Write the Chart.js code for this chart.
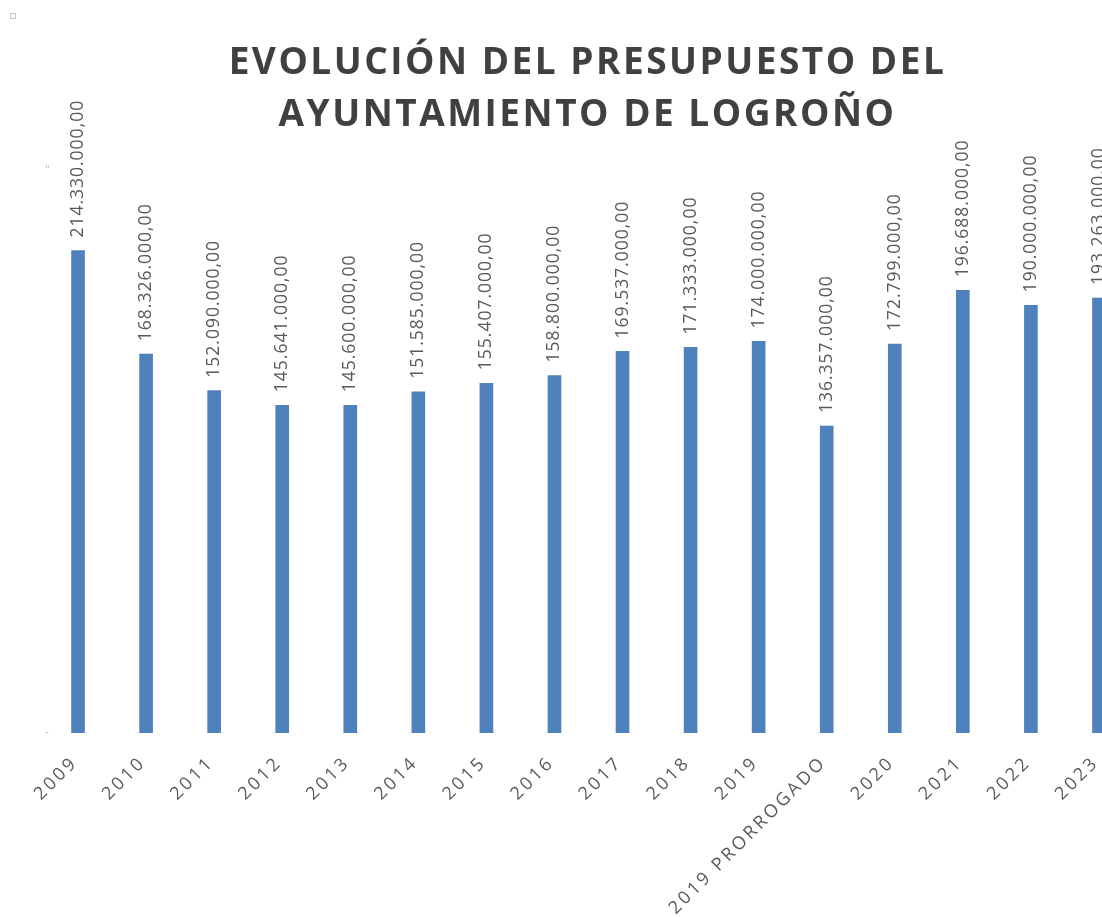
<!DOCTYPE html>
<html>
<head>
<meta charset="utf-8">
<script src="https://cdn.jsdelivr.net/npm/chart.js@4"></script>
<style>
    html, body { margin: 0; padding: 0; background: #fff; overflow: hidden; }
    #wrap { position: relative; width: 1170px; height: 917px; }
    #handle { position: absolute; left: 10px; top: 13px; width: 4px; height: 4px; border: 1px solid #c8c8c8; }
</style>
</head>
<body>
<div id="wrap">
    <canvas id="chart" width="1170" height="917"></canvas>
    <div id="handle"></div>
</div>
<script>
    'use strict';

    var years = ['2009', '2010', '2011', '2012', '2013', '2014', '2015', '2016', '2017', '2018',
                 '2019', '2019 PRORROGADO', '2020', '2021', '2022', '2023'];
    var budget = [214330000, 168326000, 152090000, 145641000, 145600000, 151585000, 155407000, 158800000,
                  169537000, 171333000, 174000000, 136357000, 172799000, 196688000, 190000000, 193263000];
    var yTicks = [0, 250000000];
    var titleLines = ['EVOLUCIÓN DEL PRESUPUESTO DEL', 'AYUNTAMIENTO DE LOGROÑO'];

    function formatEuro(v) {
        var parts = Math.round(v).toString().replace(/\B(?=(\d{3})+(?!\d))/g, '.');
        return parts + ',00';
    }

    // letter spacing: title gets its own, axis labels another, value labels a small one
    var spacingPlugin = {
        id: 'spacing',
        afterLayout: function(chart) {
            var title = chart.titleBlock;
            if (title && !title._spaced) {
                var orig = title.draw;
                title.draw = function() {
                    var prev = chart.ctx.letterSpacing;
                    chart.ctx.letterSpacing = '2.5px';
                    orig.apply(this, arguments);
                    chart.ctx.letterSpacing = prev;
                };
                title._spaced = true;
            }
        },
        beforeDraw: function(chart) { chart.ctx.letterSpacing = '3px'; },
        beforeDatasetsDraw: function(chart) { chart.ctx.letterSpacing = '0px'; },
        afterDatasetsDraw: function(chart) {
            var ctx = chart.ctx;
            var meta = chart.getDatasetMeta(0);
            ctx.save();
            ctx.letterSpacing = '1px';
            ctx.font = '17.5px "Open Sans"';
            ctx.fillStyle = '#595959';
            ctx.textAlign = 'left';
            ctx.textBaseline = 'middle';
            meta.data.forEach(function(bar, i) {
                ctx.save();
                ctx.translate(bar.x, bar.y - 13);
                ctx.rotate(-Math.PI / 2);
                ctx.fillText(formatEuro(budget[i]), 0, 0);
                ctx.restore();
            });
            ctx.restore();
            ctx.letterSpacing = '3px';
        },
        afterDraw: function(chart) { chart.ctx.letterSpacing = '0px'; }
    };

    new Chart(document.getElementById('chart'), {
        type: 'bar',
        data: {
            labels: years,
            datasets: [{
                data: budget,
                backgroundColor: '#4F81BD',
                barThickness: 13
            }]
        },
        options: {
            responsive: false,
            animation: false,
            devicePixelRatio: 1,
            layout: { padding: { left: 42, right: 37, top: 0, bottom: 0 } },
            plugins: {
                legend: { display: false },
                tooltip: { enabled: false },
                title: {
                    display: true,
                    text: titleLines,
                    color: '#404040',
                    font: { family: '"Open Sans"', size: 37, weight: 'bold', lineHeight: 1.41 },
                    padding: { top: 37, bottom: 29 }
                }
            },
            scales: {
                x: {
                    grid: { display: false, drawTicks: false },
                    border: { display: false },
                    ticks: {
                        autoSkip: false,
                        minRotation: 45,
                        maxRotation: 45,
                        padding: 19,
                        labelOffset: -3,
                        color: '#595959',
                        font: { family: '"Open Sans"', size: 18 }
                    },
                    afterFit: function(scale) { scale.height = 184; }
                },
                y: {
                    min: 0,
                    max: 250000000,
                    grid: { display: false, drawTicks: false },
                    border: { display: false },
                    afterBuildTicks: function(scale) {
                        scale.ticks = yTicks.map(function(v) { return { value: v }; });
                    },
                    ticks: {
                        mirror: true,
                        padding: 1,
                        color: '#c0c0c0',
                        font: { family: '"Open Sans"', size: 12 },
                        callback: function(v) { return v === 0 ? '-' : '"'; }
                    }
                }
            }
        },
        plugins: [spacingPlugin]
    });
</script>
</body>
</html>
